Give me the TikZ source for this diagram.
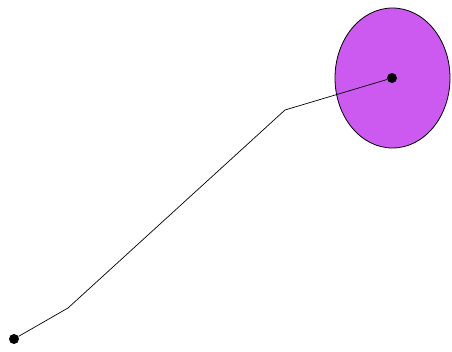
\documentclass[tikz,border=0pt]{standalone}
\usepackage{tikz}
\usetikzlibrary{shapes.geometric}
\definecolor{violetfill}{RGB}{204,90,240}

\begin{document}
\begin{tikzpicture}[
    x=1pt, y=-1pt,
    dot/.style = {circle, fill=black, inner sep=0pt, minimum size=10pt},
    disc/.style = {ellipse, draw=black, line width=0.8pt, fill=violetfill, inner sep=0pt, minimum width=115pt, minimum height=140pt},
    route/.style = {draw=black, line width=0.7pt}
]
\useasboundingbox (0,0) rectangle (452,351);

% Target area
\node (area) [disc] at (392.5, 78) {};

% Points
\node (start) [dot] at (14, 339) {};
\node (goal) [dot] at (392, 78) {};
\coordinate (bend1) at (68, 308);
\coordinate (bend2) at (285, 110);

% Route
\draw [route] (start) -- (bend1) -- (bend2) -- (goal);

\end{tikzpicture}
\end{document}
